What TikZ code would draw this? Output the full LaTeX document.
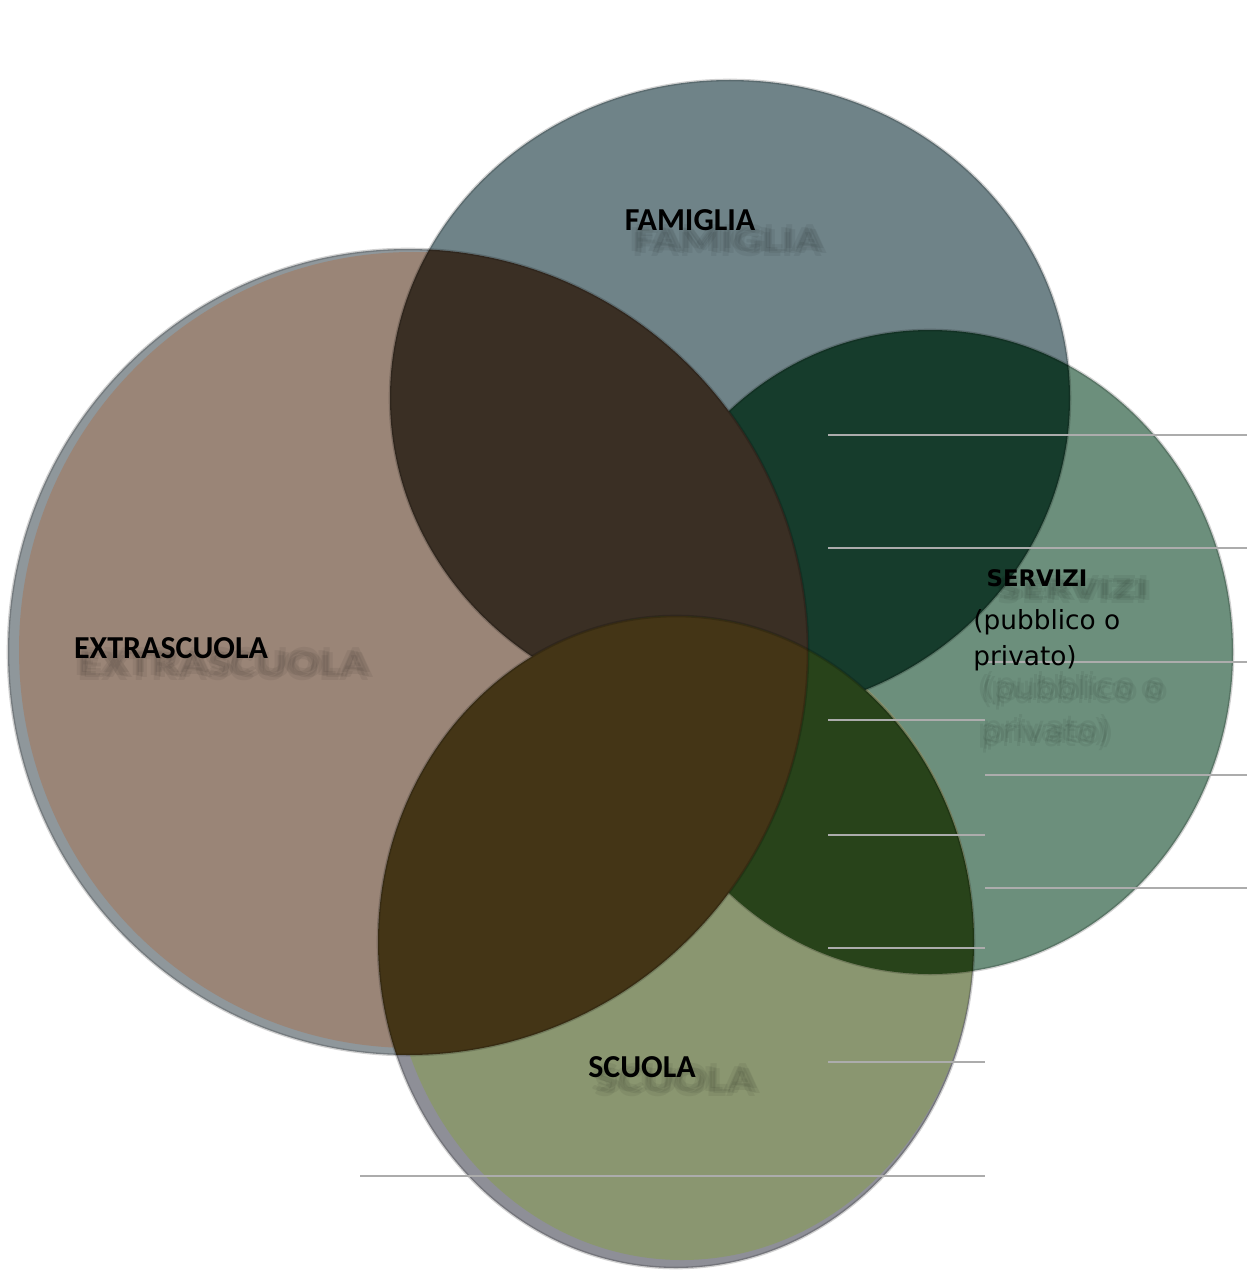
\documentclass[tikz,border=0pt]{standalone}
\usepackage{fontspec}
\setmainfont{Carlito}[BoldFont={Carlito Bold}]
\newfontfamily\dejavu{DejaVu Sans}
\usetikzlibrary{positioning,calc}

\definecolor{famcol}{HTML}{6F8388}
\definecolor{extcol}{HTML}{9A8577}
\definecolor{sercol}{HTML}{6C8F7C}
\definecolor{scucol}{HTML}{8A9670}
\definecolor{famext}{HTML}{3A2F24}
\definecolor{famser}{HTML}{163C2C}
\definecolor{extscu}{HTML}{443516}
\definecolor{serscu}{HTML}{28431A}
\definecolor{extrim}{HTML}{8F979B}
\definecolor{scurim}{HTML}{8E8F97}

% the four sets (pixel units)
\newcommand{\famset}{(Famiglia) ellipse [x radius=340, y radius=318]}
\newcommand{\extset}{(Extra) ellipse [x radius=400, y radius=403]}
\newcommand{\serset}{(Servizi) ellipse [x radius=303, y radius=322]}
\newcommand{\scuset}{(Scuola) ellipse [x radius=298, y radius=326]}

\begin{document}
\begin{tikzpicture}[x=0.02cm, y=-0.02cm,
    setlabel/.style={font=\bfseries\fontsize{18.2}{21}\selectfont, inner sep=0pt},
    serlabel/.style={font=\dejavu\bfseries\fontsize{13}{16}\selectfont, inner sep=0pt},
    sublabel/.style={font=\dejavu\fontsize{15}{20.5}\selectfont, align=left, inner sep=0pt},
    ghost/.style={opacity=0.055, inner sep=0pt},
    edge/.style={draw=black, draw opacity=0.18, line width=1.5pt},
    scanline/.style={gray!65, line width=0.6pt}]

        \useasboundingbox (0,0) rectangle (1247,1270);

        % centres
        \coordinate (Famiglia) at (730,398);
        \coordinate (Extra) at (408,652);
        \coordinate (Servizi) at (930,652);
        \coordinate (Scuola) at (676,942);

        % plain sets
        \fill[famcol] \famset;
        \fill[sercol] \serset;
        \fill[extrim] \extset;
        \fill[extcol] (413,650) ellipse [x radius=394, y radius=398];
        \fill[scurim] \scuset;
        \fill[scucol] (682,938) ellipse [x radius=292, y radius=322];

        % overlaps
        \begin{scope}
            \clip \famset;
            \fill[famser] \serset;
        \end{scope}
        \path[edge] \serset;
        \begin{scope}
            \clip \extset;
            \fill[famext] \serset;
            \fill[famext] \famset;
        \end{scope}
        \path[edge] \famset;
        \begin{scope}
            \clip \serset;
            \fill[serscu] \scuset;
        \end{scope}
        \begin{scope}
            \clip \extset;
            \fill[extscu] \scuset;
        \end{scope}
        \path[edge] \extset;
        \path[edge] \scuset;

        % scan lines
        \draw[scanline] (828,435) -- (1247,435);
        \draw[scanline] (828,548) -- (1247,548);
        \draw[scanline] (985,662) -- (1247,662);
        \draw[scanline] (985,775) -- (1247,775);
        \draw[scanline] (985,888) -- (1247,888);
        \draw[scanline] (828,720) -- (985,720);
        \draw[scanline] (828,835) -- (985,835);
        \draw[scanline] (828,948) -- (985,948);
        \draw[scanline] (828,1062) -- (985,1062);
        \draw[scanline] (360,1176) -- (985,1176);

        % blurred copies of the labels
        \foreach \dx/\dy [count=\i] in {0/0, 4/1, -4/-1, 1/-4, -1/4} {
            \node[ghost, setlabel] (famghost\i) at ($(728,241)+(\dx,\dy)$) {\scalebox{1.45}[1.15]{FAMIGLIA}};
            \node[ghost, setlabel] (extghost\i) at ($(224,664)+(\dx,\dy)$) {\scalebox{1.5}[1.2]{EXTRASCUOLA}};
            \node[ghost, setlabel] (scughost\i) at ($(676,1080)+(\dx,\dy)$) {\scalebox{1.5}[1.2]{SCUOLA}};
            \node[ghost, serlabel] (serghost\i) at ($(1073,590)+(\dx,\dy)$) {\scalebox{1.5}[1.2]{SERVIZI}};
            \node[ghost, sublabel] (subghost\i) at ($(1073,712)+(\dx,\dy)$) {\scalebox{1.25}[1.2]{(pubblico o}\\[4pt]\scalebox{1.25}[1.2]{privato)}};
        }

        % labels
        \node[setlabel] (famlabel) at (690,220) {FAMIGLIA};
        \node[setlabel] (extlabel) at (171,648) {EXTRASCUOLA};
        \node[setlabel] (sculabel) at (642,1067) {SCUOLA};
        \node[serlabel] (serlabel) at (1037,578) {SERVIZI};
        \node[sublabel, anchor=north west] (serdesc) at (973,609) {(pubblico o\\privato)};

    \end{tikzpicture}
\end{document}
